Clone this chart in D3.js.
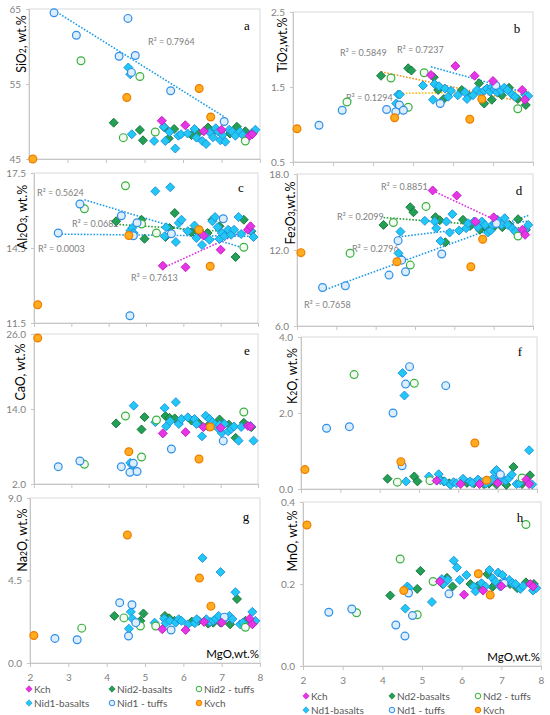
<!DOCTYPE html>
<html>
<head>
<meta charset="utf-8">
<script src="https://cdn.jsdelivr.net/npm/d3@7"></script>
<style>
  body { margin: 0; background: #fff; }
  svg { display: block; font-family: Lato, "Open Sans", sans-serif; }
</style>
</head>
<body>
<script>
// ---- data ----
var mgoTicks = [2, 3, 4, 5, 6, 7, 8];

var kchMgO   = [5.45, 6.06, 6.54, 7.0, 7.73, 7.8];
var kchSiO2  = [50.1, 49.5, 48.7, 48.9, 48.1, 48.3];
var kchTiO2  = [1.66, 1.78, 1.65, 1.58, 1.46, 1.33];
var kchAl2O3 = [13.79, 13.73, 15.0, 14.43, 15.23, 15.37];
var kchFe2O3 = [16.7, 16.3, 14.24, 14.58, 13.6, 13.2];
var kchCaO   = [10.1, 10.3, 11.1, 11.0, 11.3, 11.2];
var kchK2O   = [0.22, 0.13, 0.13, 0.16, 0.25, 0.13];
var kchNa2O  = [1.84, 1.8, 2.24, 2.2, 2.42, 2.11];
var kchMnO   = [0.206, 0.174, 0.184, 0.195, 0.2, 0.194];

var nid2bMgO   = [4.2, 4.88, 4.96, 5.52, 5.63, 5.77, 6.22, 6.4, 6.65, 6.78, 6.97, 7.22, 7.4, 7.62, 7.82];
var nid2bSiO2  = [49.84, 48.87, 47.49, 49.2, 47.75, 49.0, 48.2, 48.5, 49.2, 48.6, 48.7, 48.4, 49.3, 48.7, 48.5];
var nid2bTiO2  = [1.65, 1.75, 1.72, 1.63, 1.46, 1.34, 1.46, 1.38, 1.55, 1.28, 1.33, 1.39, 1.49, 1.34, 1.26];
var nid2bAl2O3 = [15.57, 15.63, 14.87, 14.94, 15.3, 15.9, 15.13, 15.2, 15.1, 15.63, 15.37, 15.1, 14.14, 15.63, 15.17];
var nid2bFe2O3 = [13.98, 15.38, 14.98, 14.59, 14.35, 12.61, 14.38, 13.9, 13.59, 13.85, 13.72, 13.8, 13.98, 14.43, 13.59];
var nid2bCaO   = [11.7, 10.73, 12.7, 12.87, 12.6, 12.5, 12.16, 11.8, 11.25, 11.6, 12.32, 11.5, 9.39, 11.79, 11.1];
var nid2bK2O   = [0.27, 0.33, 0.2, 0.27, 0.2, 0.15, 0.16, 0.15, 0.13, 0.14, 0.12, 0.11, 0.58, 0.13, 0.36];
var nid2bNa2O  = [2.57, 2.3, 2.7, 2.57, 2.44, 2.3, 2.26, 2.3, 2.15, 2.2, 2.2, 2.11, 3.49, 2.3, 2.17];
var nid2bMnO   = [0.172, 0.188, 0.232, 0.2, 0.215, 0.194, 0.2, 0.195, 0.224, 0.193, 0.2, 0.2, 0.19, 0.204, 0.2];

var nid2tMgO   = [3.35, 4.45, 4.88, 5.28, 7.62];
var nid2tSiO2  = [58.1, 47.85, 56.0, 48.6, 47.4];
var nid2tTiO2  = [1.30, 1.62, 1.23, 1.69, 1.21];
var nid2tAl2O3 = [16.07, 16.99, 15.46, 15.1, 14.53];
var nid2tFe2O3 = [11.74, 14.17, 10.81, 15.44, 13.1];
var nid2tCaO   = [5.15, 12.88, 6.32, 12.24, 13.52];
var nid2tK2O   = [3.01, 0.18, 2.78, 0.22, 0.29];
var nid2tNa2O  = [1.9, 2.46, 2.02, 2.02, 1.95];
var nid2tMnO   = [0.130, 0.261, 0.125, 0.206, 0.345];

var nid1bMgO   = [4.58, 4.63, 4.67, 5.25, 5.5, 5.54, 5.65, 5.8, 5.88, 5.95, 6.12, 6.3, 6.35, 6.5, 6.6, 6.7, 6.78, 6.85, 6.92, 6.97, 7.03, 7.1, 7.2, 7.28, 7.36, 7.48, 7.55, 7.8, 7.88];
var nid1bSiO2  = [57.2, 56.3, 48.3, 47.4, 49.3, 47.4, 48.6, 46.4, 48.1, 48.3, 48.4, 49.0, 47.85, 47.4, 47.0, 48.5, 47.9, 49.1, 48.65, 47.5, 48.2, 47.3, 48.9, 48.65, 48.1, 48.65, 48.2, 48.5, 48.9];
var nid1bTiO2  = [1.28, 1.40, 1.40, 1.52, 1.33, 1.54, 1.51, 1.48, 1.37, 1.45, 1.39, 1.43, 1.34, 1.39, 1.46, 1.42, 1.45, 1.48, 1.44, 1.50, 1.47, 1.43, 1.45, 1.49, 1.46, 1.40, 1.37, 1.40, 1.38];
var nid1bAl2O3 = [15.19, 15.3, 15.1, 16.77, 14.97, 15.33, 16.93, 14.74, 15.5, 15.63, 15.17, 15.4, 14.9, 14.62, 14.97, 14.83, 15.57, 15.74, 15.33, 14.86, 15.1, 14.97, 15.23, 15.03, 15.23, 15.74, 15.06, 15.2, 14.94];
var nid1bFe2O3 = [11.74, 13.45, 11.26, 14.3, 14.25, 13.72, 12.71, 14.25, 13.38, 14.83, 13.53, 13.72, 14.12, 14.25, 13.8, 14.25, 13.98, 13.38, 13.53, 14.0, 14.12, 14.38, 14.0, 14.51, 13.98, 13.7, 13.45, 13.6, 13.98];
var nid1bCaO   = [5.4, 5.0, 14.53, 11.9, 14.16, 11.23, 12.03, 15.1, 11.6, 12.4, 12.67, 12.4, 11.6, 9.63, 12.93, 12.4, 11.9, 11.49, 10.96, 11.49, 10.16, 11.6, 10.43, 10.8, 11.2, 8.93, 11.12, 11.3, 8.93];
var nid1bK2O   = [3.05, 2.46, 0.2, 0.33, 0.39, 0.23, 0.2, 0.11, 0.18, 0.15, 0.27, 0.2, 0.16, 0.25, 0.18, 0.14, 0.2, 0.25, 0.45, 0.5, 0.3, 0.28, 0.22, 0.28, 0.38, 0.13, 0.15, 1.02, 0.12];
var nid1bNa2O  = [1.87, 2.79, 2.42, 2.2, 2.42, 2.17, 2.3, 2.2, 2.39, 2.3, 2.11, 2.17, 2.39, 5.73, 2.39, 2.24, 2.3, 2.4, 2.57, 4.96, 2.3, 2.45, 2.57, 2.4, 3.86, 2.11, 2.2, 2.79, 2.3];
var nid1bMnO   = [0.14, 0.194, 0.19, 0.156, 0.212, 0.2, 0.21, 0.257, 0.24, 0.21, 0.222, 0.194, 0.182, 0.202, 0.194, 0.234, 0.214, 0.206, 0.228, 0.194, 0.222, 0.206, 0.21, 0.202, 0.2, 0.188, 0.195, 0.184, 0.19];

var nid1tMgO   = [2.65, 3.23, 4.34, 4.57, 4.66, 4.76, 5.68, 7.07];
var nid1tSiO2  = [64.5, 61.5, 58.7, 63.75, 56.55, 58.8, 54.1, 50.0];
var nid1tTiO2  = [0.99, 1.19, 1.20, 1.17, 1.26, 1.19, 1.28, 1.52];
var nid1tAl2O3 = [15.1, 16.26, 15.79, 11.79, 14.99, 15.51, 15.07, 15.67];
var nid1tFe2O3 = [9.04, 9.17, 10.02, 12.74, 11.2, 10.28, 11.68, 14.1];
var nid1tCaO   = [4.77, 5.68, 4.77, 3.87, 5.31, 4.0, 7.6, 8.9];
var nid1tK2O   = [1.6, 1.64, 2.0, 0.61, 2.76, 3.22, 2.72, 0.38];
var nid1tNa2O  = [1.34, 1.27, 3.29, 1.47, 3.18, 2.2, 1.8, 2.5];
var nid1tMnO   = [0.131, 0.139, 0.1, 0.073, 0.178, 0.123, 0.176, 0.202];

var kvchMgO   = [2.1, 4.54, 6.42, 6.72];
var kvchSiO2  = [45.0, 53.2, 54.4, 50.6];
var kvchTiO2  = [0.944, 1.09, 1.07, 1.34];
var kvchAl2O3 = [12.23, 15.0, 15.23, 13.77];
var kvchFe2O3 = [11.79, 11.07, 10.68, 12.85];
var kvchCaO   = [25.36, 7.17, 6.0, 11.12];
var kvchK2O   = [0.51, 0.72, 1.21, 0.23];
var kvchNa2O  = [1.5, 6.98, 4.63, 3.1];
var kvchMnO   = [0.344, 0.184, 0.225, 0.173];

var leftNames  = ["Kch", "Nid2-basalts", "Nid2 - tuffs", "Nid1-basalts", "Nid1 - tuffs", "Kvch"];
var rightNames = ["Kch", "Nd2-basalts", "Nd2 - tuffs", "Nd1-basalts", "Nd1 - tuffs", "Kvch"];

// ---- series table ----
var groups = {
  kch:   { mgo: kchMgO,   v: {SiO2: kchSiO2, TiO2: kchTiO2, Al2O3: kchAl2O3, Fe2O3: kchFe2O3, CaO: kchCaO, K2O: kchK2O, Na2O: kchNa2O, MnO: kchMnO},
           shape: "d", fill: "#e535e5", stroke: "#c418c4" },
  nid2b: { mgo: nid2bMgO, v: {SiO2: nid2bSiO2, TiO2: nid2bTiO2, Al2O3: nid2bAl2O3, Fe2O3: nid2bFe2O3, CaO: nid2bCaO, K2O: nid2bK2O, Na2O: nid2bNa2O, MnO: nid2bMnO},
           shape: "d", fill: "#23a055", stroke: "#12703a" },
  nid2t: { mgo: nid2tMgO, v: {SiO2: nid2tSiO2, TiO2: nid2tTiO2, Al2O3: nid2tAl2O3, Fe2O3: nid2tFe2O3, CaO: nid2tCaO, K2O: nid2tK2O, Na2O: nid2tNa2O, MnO: nid2tMnO},
           shape: "c", fill: "#f3faf1", stroke: "#3cb043" },
  nid1b: { mgo: nid1bMgO, v: {SiO2: nid1bSiO2, TiO2: nid1bTiO2, Al2O3: nid1bAl2O3, Fe2O3: nid1bFe2O3, CaO: nid1bCaO, K2O: nid1bK2O, Na2O: nid1bNa2O, MnO: nid1bMnO},
           shape: "d", fill: "#22c8f4", stroke: "#1d8fe0" },
  nid1t: { mgo: nid1tMgO, v: {SiO2: nid1tSiO2, TiO2: nid1tTiO2, Al2O3: nid1tAl2O3, Fe2O3: nid1tFe2O3, CaO: nid1tCaO, K2O: nid1tK2O, Na2O: nid1tNa2O, MnO: nid1tMnO},
           shape: "c", fill: "#dcedfb", stroke: "#2e8fe8" },
  kvch:  { mgo: kvchMgO,  v: {SiO2: kvchSiO2, TiO2: kvchTiO2, Al2O3: kvchAl2O3, Fe2O3: kvchFe2O3, CaO: kvchCaO, K2O: kvchK2O, Na2O: kvchNa2O, MnO: kvchMnO},
           shape: "c", fill: "#ffad1f", stroke: "#f07c00" }
};
var legendOrder = ["kch", "nid2b", "nid2t", "nid1b", "nid1t", "kvch"];
var drawOrder = ["nid2b", "nid1b", "nid2t", "nid1t", "kch", "kvch"];

// panel layout
var panels = [
  {key: "SiO2",  letter: "a", x0: 29,  x1: 260, y0: 9,   y1: 159, dom: [45, 65],   ticks: [45, 55, 65],        fmt: "d",   title: [["SiO",0],["2",1],[", wt.%",0]],   tx: 21,  ty: 44,  lx: 247, ly: 25},
  {key: "TiO2",  letter: "b", x0: 293, x1: 533, y0: 12,  y1: 162, dom: [0.5, 2.5], ticks: [0.5, 1.5, 2.5],     fmt: ".1f", title: [["TiO",0],["2",1],[",wt.%",0]],    tx: 282, ty: 45,  lx: 517, ly: 28},
  {key: "Al2O3", letter: "c", x0: 34,  x1: 258, y0: 173, y1: 323, dom: [11.5, 17.5], ticks: [11.5, 14.5, 17.5], fmt: ".1f", title: [["Al",0],["2",1],["O",0],["3",1],[", wt.%",0]], tx: 22, ty: 217, lx: 241, ly: 187},
  {key: "Fe2O3", letter: "d", x0: 297, x1: 533, y0: 174, y1: 326, dom: [6, 18],    ticks: [6, 12, 18],         fmt: ".1f", title: [["Fe",0],["2",1],["O",0],["3",1],[",wt.%",0]],  tx: 290, ty: 213, lx: 519, ly: 190},
  {key: "CaO",   letter: "e", x0: 34,  x1: 258, y0: 334, y1: 484, dom: [2, 26],    ticks: [2, 14, 26],         fmt: ".1f", title: [["CaO, wt.%",0]],                  tx: 20,  ty: 372, lx: 247, ly: 350},
  {key: "K2O",   letter: "f", x0: 301, x1: 537, y0: 337, y1: 489, dom: [0, 4],     ticks: [0, 2, 4],           fmt: ".1f", title: [["K",0],["2",1],["O, wt.%",0]],    tx: 292, ty: 376, lx: 520, ly: 351},
  {key: "Na2O",  letter: "g", x0: 30,  x1: 260, y0: 498, y1: 663, dom: [0, 9],     ticks: [0, 4.5, 9],         fmt: ".1f", title: [["Na",0],["2",1],["O, wt.%",0]],   tx: 22,  ty: 540, lx: 246, ly: 516, xlab: true},
  {key: "MnO",   letter: "h", x0: 303, x1: 541, y0: 502, y1: 666, dom: [0, 0.4],   ticks: [0, 0.2, 0.4],       fmt: ".1f", title: [["MnO, wt.%",0]],                  tx: 292, ty: 541, lx: 520, ly: 517, xlab: true}
];

// dotted trendlines: fitted on one series, drawn across the span of the listed series
var trends = [
  {key: "SiO2",  fit: "nid1t", span: ["nid1t"],          color: "#1f9de6", label: "R\u00b2 = 0.7964", lx: 148, ly: 41},
  {key: "TiO2",  fit: "kch",   span: ["kch"],            color: "#1f9de6", label: "R\u00b2 = 0.7237", lx: 397, ly: 49},
  {key: "TiO2",  fit: "nid2b", span: ["nid2b"],          color: "#f5921e", label: "R\u00b2 = 0.5849", lx: 340, ly: 52},
  {key: "TiO2",  fit: "nid1b", span: ["nid1b"],          color: "#fbbd12", label: "R\u00b2 = 0.1294", lx: 346, ly: 97},
  {key: "Al2O3", fit: "nid2t", span: ["nid2t"],          color: "#1f9de6", label: "R\u00b2 = 0.5624", lx: 37,  ly: 192},
  {key: "Al2O3", fit: "nid2b", span: ["nid2b"],          color: "#2a9e3a", label: "R\u00b2 = 0.0682", lx: 72,  ly: 223},
  {key: "Al2O3", fit: "nid1t", span: ["nid1t", "nid1b"], color: "#1f9de6", label: "R\u00b2 = 0.0003", lx: 38,  ly: 248},
  {key: "Al2O3", fit: "kch",   span: ["kch"],            color: "#e030e0", label: "R\u00b2 = 0.7613", lx: 131, ly: 277},
  {key: "Fe2O3", fit: "kch",   span: ["kch"],            color: "#e030e0", label: "R\u00b2 = 0.8851", lx: 381, ly: 186},
  {key: "Fe2O3", fit: "nid2b", span: ["nid2b"],          color: "#2a9e3a", label: "R\u00b2 = 0.2099", lx: 337, ly: 216},
  {key: "Fe2O3", fit: "nid1b", span: ["nid1b"],          color: "#1f9de6", label: "R\u00b2 = 0.2796", lx: 352, ly: 248},
  {key: "Fe2O3", fit: "nid1t", span: ["nid1t", "nid1b"], color: "#1f9de6", label: "R\u00b2 = 0.7658", lx: 304, ly: 304}
];

function diamond(h) {
  return "M0," + (-h) + "L" + h + ",0L0," + h + "L" + (-h) + ",0Z";
}

function linfit(xs, ys) {
  var mx = d3.mean(xs), my = d3.mean(ys), sxy = 0, sxx = 0;
  xs.forEach(function(x, i) { sxy += (x - mx) * (ys[i] - my); sxx += (x - mx) * (x - mx); });
  var b = sxy / sxx;
  return function(x) { return my + b * (x - mx); };
}

var svg = d3.select("body").append("svg")
  .attr("width", 550)
  .attr("height", 715);

panels.forEach(function(p) {
  var x = d3.scaleLinear().domain([2, 8]).range([p.x0, p.x1]),
      y = d3.scaleLinear().domain(p.dom).range([p.y1, p.y0]);
  var g = svg.append("g");

  g.append("rect")
    .attr("x", p.x0).attr("y", p.y0)
    .attr("width", p.x1 - p.x0).attr("height", p.y1 - p.y0)
    .attr("fill", "none").attr("stroke", "#d9d9d9");

  // x axis
  var xa = g.append("g")
    .attr("transform", "translate(0," + p.y1 + ")")
    .call(d3.axisBottom(x).tickValues(mgoTicks).tickSize(4).tickSizeOuter(0).tickPadding(7)
      .tickFormat(p.xlab ? d3.format("d") : function() { return ""; }));
  // y axis
  var ya = g.append("g")
    .attr("transform", "translate(" + p.x0 + ",0)")
    .call(d3.axisLeft(y).tickValues(p.ticks).tickSize(3).tickSizeOuter(0).tickPadding(5)
      .tickFormat(d3.format(p.fmt)));
  [xa, ya].forEach(function(a) {
    a.select(".domain").attr("stroke", "#c6c6c6");
    a.selectAll(".tick line").attr("stroke", "#c6c6c6");
    a.selectAll(".tick text").attr("fill", "#7f7f7f").style("font-size", "10px").style("font-family", "Lato, sans-serif");
  });

  // trendlines
  trends.filter(function(t) { return t.key === p.key; }).forEach(function(t) {
    var f = linfit(groups[t.fit].mgo, groups[t.fit].v[p.key]);
    var ext = d3.extent([].concat.apply([], t.span.map(function(s) { return groups[s].mgo; })));
    g.append("line")
      .attr("x1", x(ext[0])).attr("y1", y(f(ext[0])))
      .attr("x2", x(ext[1])).attr("y2", y(f(ext[1])))
      .attr("stroke", t.color).attr("stroke-width", 1.6)
      .attr("stroke-dasharray", "1.6,1.6");
    g.append("text")
      .attr("x", t.lx).attr("y", t.ly)
      .attr("dominant-baseline", "central")
      .attr("fill", "#808080").style("font-size", "9px")
      .text(t.label);
  });

  // points
  drawOrder.forEach(function(k) {
    var s = groups[k], vals = s.v[p.key];
    var pts = g.append("g").selectAll("path")
      .data(s.mgo.map(function(m, i) { return [m, vals[i]]; }))
      .enter();
    if (s.shape === "d") {
      pts.append("path")
        .attr("d", diamond(4.5))
        .attr("transform", function(d) { return "translate(" + x(d[0]) + "," + y(d[1]) + ")"; })
        .attr("fill", s.fill).attr("stroke", s.stroke).attr("stroke-width", 0.9);
    } else {
      pts.append("circle")
        .attr("cx", function(d) { return x(d[0]); })
        .attr("cy", function(d) { return y(d[1]); })
        .attr("r", 3.9)
        .attr("fill", s.fill).attr("stroke", s.stroke).attr("stroke-width", 1.2);
    }
  });

  // y title
  var tt = g.append("text")
    .attr("transform", "translate(" + p.tx + "," + p.ty + ") rotate(-90)")
    .attr("text-anchor", "middle")
    .attr("dominant-baseline", "central")
    .attr("fill", "#000")
    .style("font-size", "12.5px");
  p.title.forEach(function(part) {
    var ts = tt.append("tspan").text(part[0]);
    if (part[1]) ts.attr("baseline-shift", "-25%").style("font-size", "8.5px");
  });

  // panel letter
  g.append("text")
    .attr("x", p.lx).attr("y", p.ly)
    .attr("text-anchor", "middle").attr("dominant-baseline", "central")
    .style("font-family", "'Liberation Serif', serif").style("font-size", "13px")
    .text(p.letter);

  if (p.xlab) {
    g.append("text")
      .attr("x", p.x1 - 1).attr("y", p.y1 - 10)
      .attr("text-anchor", "end").attr("dominant-baseline", "central")
      .style("font-size", "11.5px").attr("fill", "#000")
      .text("MgO,wt.%");
  }
});

// legends
function legend(names, xs, ys) {
  legendOrder.forEach(function(k, i) {
    var s = groups[k], lx = xs[i % 3], ly = ys[Math.floor(i / 3)];
    if (s.shape === "d") {
      svg.append("path").attr("d", diamond(3.2))
        .attr("transform", "translate(" + lx + "," + ly + ")")
        .attr("fill", s.fill).attr("stroke", s.stroke).attr("stroke-width", 0.6);
    } else {
      svg.append("circle").attr("cx", lx).attr("cy", ly).attr("r", 2.8)
        .attr("fill", s.fill).attr("stroke", s.stroke).attr("stroke-width", 1);
    }
    svg.append("text")
      .attr("x", lx + 5).attr("y", ly)
      .attr("dominant-baseline", "central")
      .attr("fill", "#595959").style("font-size", "10px")
      .text(names[i]);
  });
}
legend(leftNames, [29, 112, 199], [689, 703]);
legend(rightNames, [306, 392, 478], [696, 710]);
</script>
</body>
</html>
